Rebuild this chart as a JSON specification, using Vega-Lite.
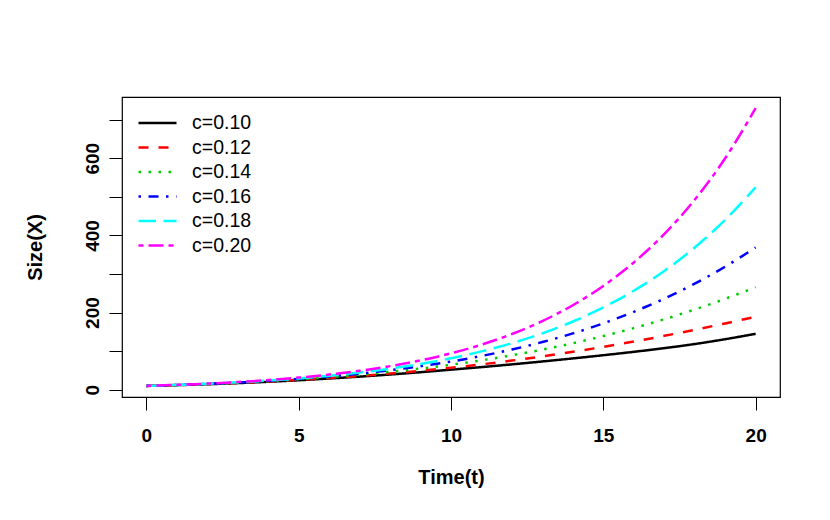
{
  "$schema": "https://vega.github.io/schema/vega-lite/v6.json",
  "width": 658,
  "height": 300,
  "autosize": "none",
  "padding": {"left": 122, "top": 97, "right": 50, "bottom": 123},
  "background": "#ffffff",
  "view": {"stroke": "#000000", "strokeWidth": 1.2, "fill": "#ffffff"},
  "config": {
    "font": "Liberation Sans",
    "axis": {
      "domain": false,
      "grid": false,
      "tickColor": "#000000",
      "tickWidth": 1,
      "tickSize": 13,
      "labelColor": "#000000",
      "labelFont": "Liberation Sans",
      "labelFontWeight": "bold",
      "labelFontSize": 19,
      "titleColor": "#000000",
      "titleFont": "Liberation Sans",
      "titleFontWeight": "bold",
      "titleFontSize": 20
    }
  },
  "data": {
    "values": [
      {"t": 0, "X": 10, "c": "c=0.10"}, {"t": 1, "X": 11.9, "c": "c=0.10"}, {"t": 2, "X": 14.3, "c": "c=0.10"}, {"t": 3, "X": 17.2, "c": "c=0.10"}, {"t": 4, "X": 20.7, "c": "c=0.10"}, {"t": 5, "X": 24.6, "c": "c=0.10"}, {"t": 6, "X": 29.1, "c": "c=0.10"}, {"t": 7, "X": 34.0, "c": "c=0.10"}, {"t": 8, "X": 39.5, "c": "c=0.10"}, {"t": 9, "X": 45.5, "c": "c=0.10"}, {"t": 10, "X": 52.0, "c": "c=0.10"}, {"t": 11, "X": 58.7, "c": "c=0.10"}, {"t": 12, "X": 65.8, "c": "c=0.10"}, {"t": 13, "X": 73.3, "c": "c=0.10"}, {"t": 14, "X": 81.2, "c": "c=0.10"}, {"t": 15, "X": 89.5, "c": "c=0.10"}, {"t": 16, "X": 98.3, "c": "c=0.10"}, {"t": 17, "X": 107.8, "c": "c=0.10"}, {"t": 18, "X": 118.5, "c": "c=0.10"}, {"t": 19, "X": 131.0, "c": "c=0.10"}, {"t": 20, "X": 145.0, "c": "c=0.10"},
      {"t": 0, "X": 10, "c": "c=0.12"}, {"t": 1, "X": 12.19, "c": "c=0.12"}, {"t": 2, "X": 14.79, "c": "c=0.12"}, {"t": 3, "X": 17.84, "c": "c=0.12"}, {"t": 4, "X": 21.4, "c": "c=0.12"}, {"t": 5, "X": 25.54, "c": "c=0.12"}, {"t": 6, "X": 30.31, "c": "c=0.12"}, {"t": 7, "X": 35.78, "c": "c=0.12"}, {"t": 8, "X": 42.0, "c": "c=0.12"}, {"t": 9, "X": 49.05, "c": "c=0.12"}, {"t": 10, "X": 56.97, "c": "c=0.12"}, {"t": 11, "X": 65.82, "c": "c=0.12"}, {"t": 12, "X": 75.63, "c": "c=0.12"}, {"t": 13, "X": 86.43, "c": "c=0.12"}, {"t": 14, "X": 98.24, "c": "c=0.12"}, {"t": 15, "X": 111.1, "c": "c=0.12"}, {"t": 16, "X": 124.9, "c": "c=0.12"}, {"t": 17, "X": 139.7, "c": "c=0.12"}, {"t": 18, "X": 155.4, "c": "c=0.12"}, {"t": 19, "X": 171.9, "c": "c=0.12"}, {"t": 20, "X": 189.2, "c": "c=0.12"},
      {"t": 0, "X": 10, "c": "c=0.14"}, {"t": 1, "X": 12.31, "c": "c=0.14"}, {"t": 2, "X": 15.08, "c": "c=0.14"}, {"t": 3, "X": 18.39, "c": "c=0.14"}, {"t": 4, "X": 22.33, "c": "c=0.14"}, {"t": 5, "X": 26.98, "c": "c=0.14"}, {"t": 6, "X": 32.45, "c": "c=0.14"}, {"t": 7, "X": 38.86, "c": "c=0.14"}, {"t": 8, "X": 46.32, "c": "c=0.14"}, {"t": 9, "X": 54.94, "c": "c=0.14"}, {"t": 10, "X": 64.88, "c": "c=0.14"}, {"t": 11, "X": 76.27, "c": "c=0.14"}, {"t": 12, "X": 89.25, "c": "c=0.14"}, {"t": 13, "X": 103.9, "c": "c=0.14"}, {"t": 14, "X": 120.5, "c": "c=0.14"}, {"t": 15, "X": 139.1, "c": "c=0.14"}, {"t": 16, "X": 159.8, "c": "c=0.14"}, {"t": 17, "X": 182.7, "c": "c=0.14"}, {"t": 18, "X": 208.0, "c": "c=0.14"}, {"t": 19, "X": 235.7, "c": "c=0.14"}, {"t": 20, "X": 265.8, "c": "c=0.14"},
      {"t": 0, "X": 10, "c": "c=0.16"}, {"t": 1, "X": 12.41, "c": "c=0.16"}, {"t": 2, "X": 15.34, "c": "c=0.16"}, {"t": 3, "X": 18.89, "c": "c=0.16"}, {"t": 4, "X": 23.18, "c": "c=0.16"}, {"t": 5, "X": 28.34, "c": "c=0.16"}, {"t": 6, "X": 34.51, "c": "c=0.16"}, {"t": 7, "X": 41.87, "c": "c=0.16"}, {"t": 8, "X": 50.62, "c": "c=0.16"}, {"t": 9, "X": 60.97, "c": "c=0.16"}, {"t": 10, "X": 73.16, "c": "c=0.16"}, {"t": 11, "X": 87.46, "c": "c=0.16"}, {"t": 12, "X": 104.2, "c": "c=0.16"}, {"t": 13, "X": 123.6, "c": "c=0.16"}, {"t": 14, "X": 146.1, "c": "c=0.16"}, {"t": 15, "X": 172.1, "c": "c=0.16"}, {"t": 16, "X": 202.0, "c": "c=0.16"}, {"t": 17, "X": 236.1, "c": "c=0.16"}, {"t": 18, "X": 275.0, "c": "c=0.16"}, {"t": 19, "X": 319.1, "c": "c=0.16"}, {"t": 20, "X": 368.9, "c": "c=0.16"},
      {"t": 0, "X": 10, "c": "c=0.18"}, {"t": 1, "X": 12.47, "c": "c=0.18"}, {"t": 2, "X": 15.51, "c": "c=0.18"}, {"t": 3, "X": 19.26, "c": "c=0.18"}, {"t": 4, "X": 23.84, "c": "c=0.18"}, {"t": 5, "X": 29.45, "c": "c=0.18"}, {"t": 6, "X": 36.28, "c": "c=0.18"}, {"t": 7, "X": 44.6, "c": "c=0.18"}, {"t": 8, "X": 54.7, "c": "c=0.18"}, {"t": 9, "X": 66.91, "c": "c=0.18"}, {"t": 10, "X": 81.66, "c": "c=0.18"}, {"t": 11, "X": 99.43, "c": "c=0.18"}, {"t": 12, "X": 120.8, "c": "c=0.18"}, {"t": 13, "X": 146.3, "c": "c=0.18"}, {"t": 14, "X": 176.9, "c": "c=0.18"}, {"t": 15, "X": 213.3, "c": "c=0.18"}, {"t": 16, "X": 256.6, "c": "c=0.18"}, {"t": 17, "X": 307.9, "c": "c=0.18"}, {"t": 18, "X": 368.7, "c": "c=0.18"}, {"t": 19, "X": 440.4, "c": "c=0.18"}, {"t": 20, "X": 524.6, "c": "c=0.18"},
      {"t": 0, "X": 10, "c": "c=0.20"}, {"t": 1, "X": 12.63, "c": "c=0.20"}, {"t": 2, "X": 15.92, "c": "c=0.20"}, {"t": 3, "X": 20.03, "c": "c=0.20"}, {"t": 4, "X": 25.14, "c": "c=0.20"}, {"t": 5, "X": 31.5, "c": "c=0.20"}, {"t": 6, "X": 39.39, "c": "c=0.20"}, {"t": 7, "X": 49.16, "c": "c=0.20"}, {"t": 8, "X": 61.23, "c": "c=0.20"}, {"t": 9, "X": 76.1, "c": "c=0.20"}, {"t": 10, "X": 94.4, "c": "c=0.20"}, {"t": 11, "X": 116.9, "c": "c=0.20"}, {"t": 12, "X": 144.4, "c": "c=0.20"}, {"t": 13, "X": 178.1, "c": "c=0.20"}, {"t": 14, "X": 219.1, "c": "c=0.20"}, {"t": 15, "X": 269.1, "c": "c=0.20"}, {"t": 16, "X": 329.9, "c": "c=0.20"}, {"t": 17, "X": 403.5, "c": "c=0.20"}, {"t": 18, "X": 492.4, "c": "c=0.20"}, {"t": 19, "X": 600.0, "c": "c=0.20"}, {"t": 20, "X": 729.7, "c": "c=0.20"}
    ]
  },
  "mark": {"type": "line", "strokeWidth": 2.5, "strokeCap": "butt", "interpolate": "monotone", "clip": true},
  "encoding": {
    "x": {
      "field": "t",
      "type": "quantitative",
      "scale": {"domain": [-0.8, 20.8], "nice": false, "zero": false},
      "axis": {
        "title": "Time(t)",
        "values": [0, 5, 10, 15, 20],
        "labelBaseline": "alphabetic",
        "labelPadding": 31,
        "titlePadding": 22
      }
    },
    "y": {
      "field": "X",
      "type": "quantitative",
      "scale": {"domain": [-18.8, 758.8], "nice": false, "zero": false},
      "axis": {
        "title": "Size(X)",
        "values": [0, 100, 200, 300, 400, 500, 600, 700],
        "labelExpr": "datum.value % 200 == 0 ? datum.label : ''",
        "labelAngle": -90,
        "labelAlign": "center",
        "labelBaseline": "alphabetic",
        "labelPadding": 11,
        "titlePadding": 38
      }
    },
    "color": {
      "field": "c",
      "type": "nominal",
      "scale": {
        "domain": ["c=0.10", "c=0.12", "c=0.14", "c=0.16", "c=0.18", "c=0.20"],
        "range": ["#000000", "#ff0000", "#00cd00", "#0000ff", "#00ffff", "#ff00ff"]
      },
      "legend": {
        "title": null,
        "orient": "none",
        "legendX": 24.5,
        "legendY": 15,
        "symbolType": "M-2,0L2,0",
        "symbolSize": 361,
        "symbolStrokeWidth": 2.5,
        "labelFont": "Liberation Sans",
        "labelFontSize": 19.5,
        "labelColor": "#000000",
        "labelOffset": 23.5,
        "rowPadding": 3.5
      }
    },
    "strokeDash": {
      "field": "c",
      "type": "nominal",
      "scale": {
        "domain": ["c=0.10", "c=0.12", "c=0.14", "c=0.16", "c=0.18", "c=0.20"],
        "range": [[1, 0], [10, 10], [2.5, 7.5], [2.5, 7.5, 10, 7.5], [17.5, 7.5], [5, 5, 15, 5]]
      },
      "legend": null
    }
  }
}
